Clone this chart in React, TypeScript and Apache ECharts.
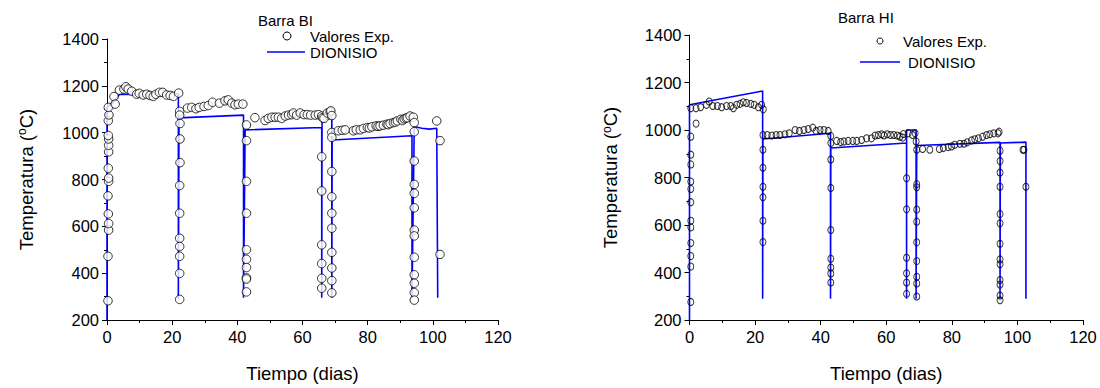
import React, { useEffect, useRef } from "react";
import * as echarts from "echarts";

// ---------- data ----------
const xTickLabels = ["0", "20", "40", "60", "80", "100", "120"];
const yTickLabels = ["200", "400", "600", "800", "1000", "1200", "1400"];

const titleBI = "Barra BI";
const titleHI = "Barra HI";
const expName = "Valores Exp.";
const modelName = "DIONISIO";

// DIONISIO model curve, Barra BI  [day, °C]
const dionisioBI: number[][] = [
  [0, 200], [0, 1108], [2.3, 1135], [3.8, 1163], [21.9, 1165], [21.9, 290],
  [22.1, 1063], [41.9, 1075], [41.9, 295], [42.4, 1012], [65.9, 1022], [65.9, 295],
  [66.0, 1055], [69.0, 1062], [69.0, 295], [69.1, 969], [93.6, 987], [93.6, 295],
  [94.3, 1026], [96.6, 1019], [99.0, 1015], [101.2, 1019], [101.5, 295],
];

// Experimental values, Barra BI
const expBI: number[][] = [
  [0.3, 282], [0.3, 472], [0.5, 584], [0.5, 612], [0.4, 653], [0.3, 730], [0.5, 792],
  [0.5, 806], [0.4, 848], [0.5, 918], [0.5, 946], [0.5, 973], [0.4, 988], [0.4, 1051],
  [0.6, 1076], [0.4, 1108],
  [2.15, 1154], [2.5, 1122], [3.8, 1182], [5.2, 1186], [5.8, 1196], [6.5, 1186], [7.6, 1177],
  [9.1, 1164], [9.9, 1168], [11.1, 1161], [12.2, 1164], [13.2, 1159], [14.2, 1155],
  [15.0, 1164], [16.1, 1172], [17.1, 1172], [18.3, 1161], [19.4, 1159], [20.4, 1155], [22.0, 1169],
  [22.3, 1091], [22.3, 1075], [22.4, 1039], [22.4, 973], [22.4, 872], [22.3, 774], [22.3, 656],
  [22.3, 549], [22.3, 514], [22.3, 472], [22.3, 399], [22.3, 288],
  [24.7, 1105], [26.0, 1108], [27.3, 1102], [28.3, 1108], [29.8, 1112], [31.1, 1116],
  [32.4, 1130], [34.5, 1126], [36.2, 1136], [37.2, 1140], [38.3, 1126], [39.3, 1119],
  [40.3, 1122], [41.7, 1122],
  [42.8, 1033], [42.8, 966], [42.8, 792], [42.8, 656], [42.8, 500], [42.8, 459], [42.8, 424],
  [42.8, 380], [42.8, 375], [42.8, 320],
  [45.4, 1064], [48.5, 1052], [49.5, 1061], [50.6, 1066], [51.6, 1066], [52.6, 1066],
  [53.6, 1061], [54.7, 1071], [55.7, 1075], [56.7, 1077], [57.2, 1084], [58.2, 1075],
  [59.3, 1084], [60.5, 1077], [61.5, 1077], [62.5, 1075], [63.9, 1075], [64.9, 1077],
  [65.9, 1071], [66.2, 1064], [66.6, 1061], [67.6, 1084], [68.5, 1089], [68.7, 1093],
  [65.9, 897], [65.9, 751], [65.9, 521], [65.9, 441], [65.9, 378], [65.9, 336],
  [69.0, 1073], [69.0, 1001], [69.0, 980], [69.0, 834], [69.0, 726], [69.0, 656], [69.0, 592],
  [69.0, 489], [69.0, 422], [69.0, 368], [69.0, 316],
  [71.0, 1008], [72.2, 1010], [73.1, 1012], [75.6, 1008], [76.5, 1012], [77.7, 1012],
  [78.7, 1018], [79.9, 1022], [80.5, 1020], [81.3, 1025], [82.6, 1029], [83.2, 1027],
  [83.8, 1029], [84.8, 1032], [85.9, 1036], [86.3, 1034], [86.9, 1039], [87.9, 1043],
  [88.5, 1045], [89.1, 1050], [90.2, 1057], [90.7, 1052], [91.2, 1059], [91.8, 1062],
  [92.2, 1064], [93.0, 1071], [94.0, 1066],
  [94.3, 1043], [94.3, 1004], [94.3, 879], [94.3, 779], [94.3, 741], [94.3, 679], [94.3, 584],
  [94.3, 559], [94.3, 468], [94.3, 393], [94.3, 357], [94.3, 317], [94.3, 285],
  [101.2, 1050], [102.2, 966], [102.2, 480],
];

// DIONISIO model curve, Barra HI
const dionisioHI: number[][] = [
  [0, 200], [0, 1106], [22.3, 1164], [22.3, 290], [22.4, 962], [43.0, 986], [43.0, 290],
  [43.1, 924], [66.2, 945], [66.2, 290], [66.2, 1000], [69.1, 1000], [69.1, 290],
  [69.3, 935], [94.7, 948], [94.7, 290], [94.8, 945], [102.6, 949], [102.6, 290],
];

// Experimental values, Barra HI
const expHI: number[][] = [
  [0.4, 1092], [0.4, 972], [0.4, 896], [0.4, 855], [0.4, 783], [0.4, 752], [0.4, 696],
  [0.4, 618], [0.4, 590], [0.4, 524], [0.4, 469], [0.4, 425], [0.4, 276],
  [2.0, 1027], [2.0, 1092],
  [3.4, 1096], [5.2, 1106], [6.0, 1120], [7.1, 1101], [8.5, 1101], [9.8, 1096], [11.3, 1101],
  [12.6, 1101], [13.4, 1092], [14.4, 1106], [15.4, 1110], [16.4, 1117], [17.4, 1114],
  [18.7, 1110], [19.7, 1106], [21.0, 1096], [22.0, 1106], [22.5, 1087],
  [22.4, 979], [22.4, 917], [22.4, 841], [22.4, 761], [22.4, 717], [22.4, 618], [22.4, 528],
  [23.7, 979], [25.1, 977], [26.4, 979], [27.6, 979], [29.1, 982], [30.4, 986], [32.2, 1000],
  [33.5, 996], [34.9, 1000], [36.2, 1004], [37.6, 1010], [38.6, 996], [39.8, 1000],
  [41.0, 1000], [42.3, 996],
  [43.1, 975], [43.1, 945], [43.1, 876], [43.1, 756], [43.1, 579], [43.1, 458], [43.1, 421],
  [43.1, 396], [43.1, 358],
  [44.9, 954], [46.1, 949], [47.1, 952], [48.4, 954], [49.8, 954], [51.0, 954], [52.5, 958],
  [54.0, 965], [55.5, 965], [56.6, 977], [57.6, 979], [58.6, 982], [59.3, 977], [60.3, 982],
  [61.3, 979], [62.3, 979], [63.4, 977], [64.2, 972], [65.0, 968], [65.2, 983], [66.7, 986],
  [68.0, 979], [68.8, 986], [69.1, 952],
  [66.2, 797], [66.2, 666], [66.2, 462], [66.2, 397], [66.2, 358], [66.2, 310],
  [69.3, 917], [69.3, 772], [69.3, 759], [69.3, 665], [69.3, 614], [69.3, 527], [69.3, 448],
  [69.3, 382], [69.3, 354], [69.3, 299],
  [71.1, 920], [73.3, 917], [76.2, 920], [77.4, 924], [78.9, 928], [79.9, 931], [80.9, 938],
  [82.5, 942], [83.7, 942], [84.7, 948], [86.0, 956], [87.0, 961], [88.1, 965], [89.4, 972],
  [90.6, 979], [91.6, 982], [92.8, 986], [94.1, 986], [94.4, 993],
  [94.7, 913], [94.7, 869], [94.7, 821], [94.7, 761], [94.7, 646], [94.7, 607], [94.7, 521],
  [94.7, 455], [94.7, 435], [94.7, 368], [94.7, 349], [94.7, 303], [94.7, 283],
  [101.7, 917], [102.0, 917], [102.6, 761],
];

// ---------- chart ----------
const FONT = "'Liberation Sans', Arial, sans-serif";
const BLUE = "#0000ff";

function xAxisCfg(gridIndex: number) {
  return {
    type: "value" as const,
    gridIndex,
    min: Number(xTickLabels[0]),
    max: Number(xTickLabels[xTickLabels.length - 1]),
    interval: 20,
    name: "Tiempo (dias)",
    nameLocation: "middle" as const,
    nameGap: 44,
    nameTextStyle: { fontSize: 18.5, color: "#000", fontFamily: FONT },
    axisLine: { show: true, onZero: false, lineStyle: { color: "#000", width: 1 } },
    axisTick: { show: true, inside: false, length: 5, lineStyle: { color: "#000" } },
    minorTick: { show: true, splitNumber: 2, length: 3, lineStyle: { color: "#000" } },
    axisLabel: {
      color: "#000",
      fontSize: 16.5,
      fontFamily: FONT,
      margin: 8,
      formatter: (v: number) => xTickLabels.find((t) => Number(t) === v) ?? String(v),
    },
    splitLine: { show: false },
  };
}

function yAxisCfg(gridIndex: number, nameGap: number) {
  return {
    type: "value" as const,
    gridIndex,
    min: Number(yTickLabels[0]),
    max: Number(yTickLabels[yTickLabels.length - 1]),
    interval: 200,
    name: "Temperatura ({sup|o}C)",
    nameLocation: "middle" as const,
    nameGap,
    nameTextStyle: {
      fontSize: 18.5,
      color: "#000",
      fontFamily: FONT,
      rich: { sup: { fontSize: 12, color: "#000", fontFamily: FONT, verticalAlign: "top", padding: [0, 0, 8, 0] } },
    },
    axisLine: { show: true, onZero: false, lineStyle: { color: "#000", width: 1 } },
    axisTick: { show: true, inside: false, length: 5, lineStyle: { color: "#000" } },
    minorTick: { show: true, splitNumber: 2, length: 3, lineStyle: { color: "#000" } },
    axisLabel: {
      color: "#000",
      fontSize: 16.5,
      fontFamily: FONT,
      margin: 8,
      formatter: (v: number) => yTickLabels.find((t) => Number(t) === v) ?? String(v),
    },
    splitLine: { show: false },
  };
}

function legendGraphic(
  title: string,
  titleX: number,
  titleY: number,
  circleX: number,
  circleY: number,
  circleR: number,
  textX: number,
  lineX1: number,
  lineX2: number,
  lineY: number,
  textX2: number
) {
  const ts = { fill: "#000", fontSize: 15, fontFamily: FONT, verticalAlign: "middle" as const };
  return [
    { type: "text", x: titleX, y: titleY, style: { ...ts, text: title } },
    {
      type: "circle",
      shape: { cx: circleX, cy: circleY, r: circleR },
      style: { fill: "#fff", stroke: "#000", lineWidth: 1 },
    },
    { type: "text", x: textX, y: circleY, style: { ...ts, text: expName } },
    {
      type: "line",
      shape: { x1: lineX1, y1: lineY, x2: lineX2, y2: lineY },
      style: { stroke: BLUE, lineWidth: 1.5 },
    },
    { type: "text", x: textX2, y: lineY, style: { ...ts, text: modelName } },
  ];
}

export default function App() {
  const ref = useRef<HTMLDivElement>(null);

  useEffect(() => {
    if (!ref.current) return;
    const chart = echarts.init(ref.current, null, { renderer: "svg" });
    chart.setOption({
      animation: false,
      backgroundColor: "#fff",
      textStyle: { fontFamily: FONT },
      grid: [
        { left: 107, top: 39, width: 391, height: 288, containLabel: false },
        { left: 689.5, top: 35, width: 393.5, height: 290, containLabel: false },
      ],
      xAxis: [xAxisCfg(0), xAxisCfg(1)],
      yAxis: [yAxisCfg(0, 71), yAxisCfg(1, 69)],
      series: [
        {
          name: modelName,
          type: "line",
          xAxisIndex: 0,
          yAxisIndex: 0,
          data: dionisioBI,
          showSymbol: false,
          symbol: "none",
          lineStyle: { color: BLUE, width: 1.6 },
          z: 2,
        },
        {
          name: expName,
          type: "scatter",
          xAxisIndex: 0,
          yAxisIndex: 0,
          data: expBI,
          symbol: "circle",
          symbolSize: 8.5,
          itemStyle: { color: "#fff", borderColor: "#000", borderWidth: 1 },
          z: 3,
        },
        {
          name: modelName,
          type: "line",
          xAxisIndex: 1,
          yAxisIndex: 1,
          data: dionisioHI,
          showSymbol: false,
          symbol: "none",
          lineStyle: { color: BLUE, width: 1.6 },
          z: 2,
        },
        {
          name: expName,
          type: "scatter",
          xAxisIndex: 1,
          yAxisIndex: 1,
          data: expHI,
          symbol: "circle",
          symbolSize: [6, 7],
          itemStyle: { color: "rgba(255,255,255,0)", borderColor: "#000", borderWidth: 1 },
          z: 3,
        },
      ],
      graphic: [
        ...legendGraphic(titleBI, 258, 20, 287, 36, 4, 310, 267, 305, 52, 310),
        ...legendGraphic(titleHI, 838, 17, 880, 41, 3, 903, 860, 900, 62, 908),
      ],
    });
    return () => chart.dispose();
  }, []);

  return (
    <div
      ref={ref}
      style={{ position: "fixed", left: 0, top: 0, width: 1100, height: 388, background: "#fff" }}
    />
  );
}
